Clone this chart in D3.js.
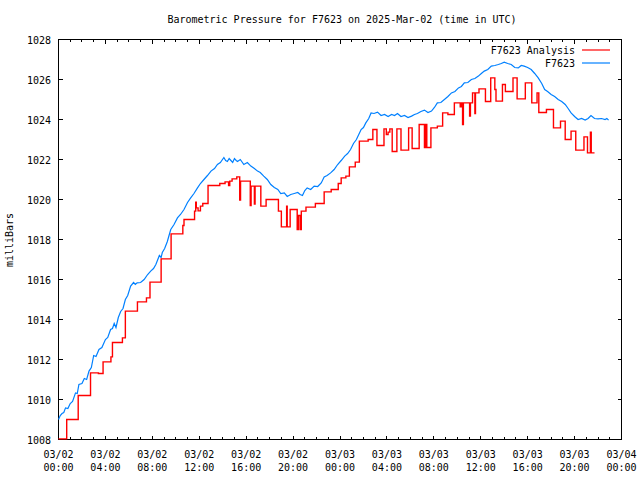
<!DOCTYPE html>
<html><head><meta charset="utf-8">
<script src="https://cdn.jsdelivr.net/npm/d3@7"></script>
<style>
body{margin:0;background:#fff;}
text{font-family:"DejaVu Sans Mono","Liberation Mono",monospace;font-size:10px;fill:#000;}
</style></head>
<body><svg id="c" width="640" height="480"></svg>
<script>
const title = "Barometric Pressure for F7623 on 2025-Mar-02 (time in UTC)";
const yLabel = "milliBars";
const seriesNames = ["F7623 Analysis", "F7623"];
const seriesColors = ["#ff0000", "#0080ff"];
const xTickHours = [0,4,8,12,16,20,24,28,32,36,40,44,48];
const xTickDates = ["03/02","03/02","03/02","03/02","03/02","03/02","03/03","03/03","03/03","03/03","03/03","03/03","03/04"];
const xTickTimes = ["00:00","04:00","08:00","12:00","16:00","20:00","00:00","04:00","08:00","12:00","16:00","20:00","00:00"];
const yTicks = [1008,1010,1012,1014,1016,1018,1020,1022,1024,1026,1028];

// observed (blue): hours since 03/02 00:00 UTC, mbar
const obsHours = [0,0.15,0.3,0.45,0.6,0.8,1.0,1.2,1.45,1.6,1.74,2.0,2.2,2.4,2.6,2.8,3.0,3.2,3.45,3.7,4.0,4.2,4.44,4.6,4.75,4.9,5.1,5.3,5.5,5.7,5.9,6.15,6.4,6.55,6.7,7.0,7.3,7.6,7.86,8.1,8.3,8.6,8.75,8.85,9.05,9.28,9.4,9.57,9.85,10.14,10.4,10.7,11.0,11.27,11.55,11.85,12.1,12.4,12.7,13.0,13.3,13.55,13.8,14.1,14.25,14.4,14.55,14.7,14.85,15.0,15.15,15.26,15.5,15.8,16.1,16.4,16.7,16.97,17.2,17.5,17.8,18.1,18.4,18.7,18.95,19.25,19.5,19.8,20.1,20.4,20.6,20.8,21.0,21.2,21.5,21.8,22.1,22.4,22.65,22.9,23.2,23.5,23.8,24.1,24.4,24.65,24.9,25.15,25.4,25.6,25.8,26.0,26.2,26.45,26.65,26.9,27.2,27.5,27.8,28.1,28.4,28.65,28.9,29.2,29.5,29.8,30.1,30.35,30.6,30.9,31.2,31.5,31.8,32.05,32.3,32.6,32.9,33.2,33.5,33.8,34.1,34.35,34.6,34.9,35.2,35.5,35.8,36.05,36.3,36.6,36.9,37.2,37.5,37.75,38.0,38.3,38.6,38.9,39.2,39.45,39.7,40.0,40.3,40.6,40.9,41.2,41.45,41.7,42.0,42.3,42.6,42.9,43.2,43.45,43.7,44.0,44.3,44.6,44.9,45.15,45.4,45.7,46.0,46.3,46.6,46.75,46.9];
const obsValues = [1009.0,1009.2,1009.3,1009.35,1009.58,1009.55,1009.8,1009.9,1010.33,1010.3,1010.75,1010.8,1011.05,1011.0,1011.42,1011.6,1012.2,1012.15,1012.5,1012.6,1013.0,1013.1,1013.5,1013.55,1013.8,1013.6,1014.1,1014.4,1014.55,1015.0,1015.2,1015.67,1015.85,1015.75,1015.83,1015.85,1016.0,1016.25,1016.42,1016.55,1016.75,1017.2,1017.1,1017.35,1017.55,1017.9,1018.15,1018.5,1018.75,1019.08,1019.25,1019.5,1019.85,1020.08,1020.3,1020.58,1020.8,1021.0,1021.2,1021.42,1021.55,1021.75,1021.85,1022.1,1021.95,1021.9,1022.05,1021.95,1021.85,1022.05,1021.95,1021.9,1022.0,1021.75,1021.85,1021.67,1021.55,1021.42,1021.35,1021.17,1021.0,1020.75,1020.6,1020.5,1020.3,1020.33,1020.15,1020.25,1020.3,1020.35,1020.25,1020.2,1020.45,1020.58,1020.5,1020.67,1020.65,1020.83,1021.13,1021.2,1021.33,1021.5,1021.75,1021.95,1022.17,1022.3,1022.5,1022.8,1023.0,1023.25,1023.5,1023.6,1023.83,1024.05,1024.33,1024.3,1024.37,1024.2,1024.25,1024.15,1024.25,1024.2,1024.3,1024.15,1024.2,1024.1,1024.17,1024.25,1024.3,1024.4,1024.47,1024.35,1024.42,1024.6,1024.83,1024.85,1025.0,1025.15,1025.33,1025.4,1025.58,1025.65,1025.83,1025.85,1026.0,1026.05,1026.17,1026.3,1026.42,1026.5,1026.67,1026.7,1026.75,1026.8,1026.87,1026.8,1026.75,1026.6,1026.58,1026.7,1026.67,1026.6,1026.5,1026.3,1026.08,1025.8,1025.5,1025.4,1025.25,1025.15,1025.0,1024.9,1024.75,1024.55,1024.33,1024.15,1024.0,1024.05,1023.97,1024.05,1024.2,1024.05,1024.03,1024.05,1024.0,1024.05,1023.97];

// analysis (red): step values, each holds from its hour until the next
const anaHours = [0,0.7,1.68,2.73,3.4,3.8,4.47,4.6,5.45,5.7,6.73,7.5,7.8,8.75,9.6,10.6,10.7,11.6,11.7,11.75,11.9,12.1,12.3,12.75,13.75,14.2,14.5,14.6,14.8,15.2,15.45,15.52,16.35,16.42,16.7,16.76,17.25,17.7,18.75,19.0,19.45,19.5,19.75,20.35,20.45,20.6,20.7,21.1,21.9,22.65,23.25,23.85,24.1,24.5,24.8,25.3,25.65,26.4,26.8,27.15,27.75,27.95,28.1,28.25,28.45,28.85,29.2,29.85,30.15,30.75,31.2,31.3,31.4,31.75,32.3,32.75,33.2,33.75,34.25,34.35,34.45,34.52,35.05,35.12,35.3,35.5,35.55,35.85,36.4,36.85,37.2,37.3,37.85,38.1,38.75,39.1,39.8,40.35,40.8,40.95,41.6,42.2,42.8,43.2,43.7,44.1,44.8,45.1,45.35,45.42,45.7];
const anaValues = [1008.03,1009.0,1010.2,1011.33,1011.3,1011.88,1012.13,1012.85,1013.08,1014.42,1014.88,1015.08,1015.87,1017.03,1018.28,1018.7,1019.0,1019.42,1019.87,1019.58,1019.43,1019.67,1019.8,1020.7,1020.8,1020.88,1020.7,1020.92,1021.03,1021.13,1019.97,1020.92,1019.7,1020.67,1019.77,1020.67,1019.67,1020.0,1019.42,1018.63,1019.67,1018.63,1019.5,1018.5,1019.2,1018.5,1019.42,1019.62,1019.8,1020.38,1020.5,1020.8,1021.08,1021.17,1021.63,1021.87,1022.92,1023.0,1023.5,1022.7,1023.53,1023.25,1023.37,1023.53,1022.4,1023.53,1022.47,1023.58,1022.55,1023.75,1022.6,1023.75,1022.6,1023.58,1023.67,1024.33,1024.25,1024.83,1024.63,1024.83,1023.75,1024.83,1024.17,1024.83,1025.33,1024.3,1025.33,1025.53,1024.9,1026.08,1025.5,1024.92,1025.75,1025.4,1026.08,1025.03,1025.83,1024.83,1025.33,1024.35,1024.5,1023.58,1023.92,1023.0,1023.42,1022.47,1023.13,1022.33,1023.37,1022.33,1022.33];

const svg = d3.select("#c");
const L = 58.5, R = 621.5, T = 39.5, B = 439.5;
const x = d3.scaleLinear().domain([0,48]).range([L,R]);
const y = d3.scaleLinear().domain([1008,1028]).range([B,T]);

// frame
svg.append("rect").attr("x",L).attr("y",T).attr("width",R-L).attr("height",B-T)
  .attr("fill","none").attr("stroke","#000").attr("stroke-width",1).attr("shape-rendering","crispEdges");

const minorHours = d3.range(0,49,1);
const tk = svg.append("g").attr("stroke","#000").attr("stroke-width",1).attr("shape-rendering","crispEdges");
minorHours.forEach(h=>{
  const len = (h%4===0)?4:2.5;
  const xx = Math.round(x(h)-0.5)+0.5;
  tk.append("line").attr("x1",xx).attr("x2",xx).attr("y1",B).attr("y2",B-len);
  tk.append("line").attr("x1",xx).attr("x2",xx).attr("y1",T).attr("y2",T+len);
});
yTicks.forEach(v=>{
  const yy = Math.round(y(v)-0.5)+0.5;
  tk.append("line").attr("x1",L).attr("x2",L+4).attr("y1",yy).attr("y2",yy);
  tk.append("line").attr("x1",R).attr("x2",R-4).attr("y1",yy).attr("y2",yy);
});

// y tick labels
svg.append("g").selectAll("text").data(yTicks).join("text")
  .attr("x",51).attr("y",d=>y(d)+4).attr("text-anchor","end").text(d=>d);

// x tick labels
const xl = svg.append("g");
xTickHours.forEach((h,i)=>{
  xl.append("text").attr("x",x(h)).attr("y",458).attr("text-anchor","middle").text(xTickDates[i]);
  xl.append("text").attr("x",x(h)).attr("y",471).attr("text-anchor","middle").text(xTickTimes[i]);
});

// title & axis label
svg.append("text").attr("x",342).attr("y",23).attr("text-anchor","middle").text(title);
svg.append("text").attr("transform","translate(13,240) rotate(-90)").attr("text-anchor","middle").text(yLabel);

// series
const obs = obsHours.map((h,i)=>[h,obsValues[i]]);
const ana = anaHours.map((h,i)=>[h,anaValues[i]]);
svg.append("path").datum(obs).attr("fill","none").attr("stroke",seriesColors[1]).attr("stroke-width",1.2)
  .attr("d",d3.line().x(d=>x(d[0])).y(d=>y(d[1])));
svg.append("path").datum(ana).attr("fill","none").attr("stroke",seriesColors[0]).attr("stroke-width",1.4)
  .attr("d",d3.line().curve(d3.curveStepAfter).x(d=>x(d[0])).y(d=>y(d[1])));

// legend
seriesNames.forEach((n,i)=>{
  const ly = 50 + i*13;
  svg.append("text").attr("x",575).attr("y",ly+4).attr("text-anchor","end").text(n);
  svg.append("line").attr("x1",582).attr("x2",610).attr("y1",ly).attr("y2",ly)
    .attr("stroke",seriesColors[i]).attr("stroke-width",1.2);
});
</script></body></html>
